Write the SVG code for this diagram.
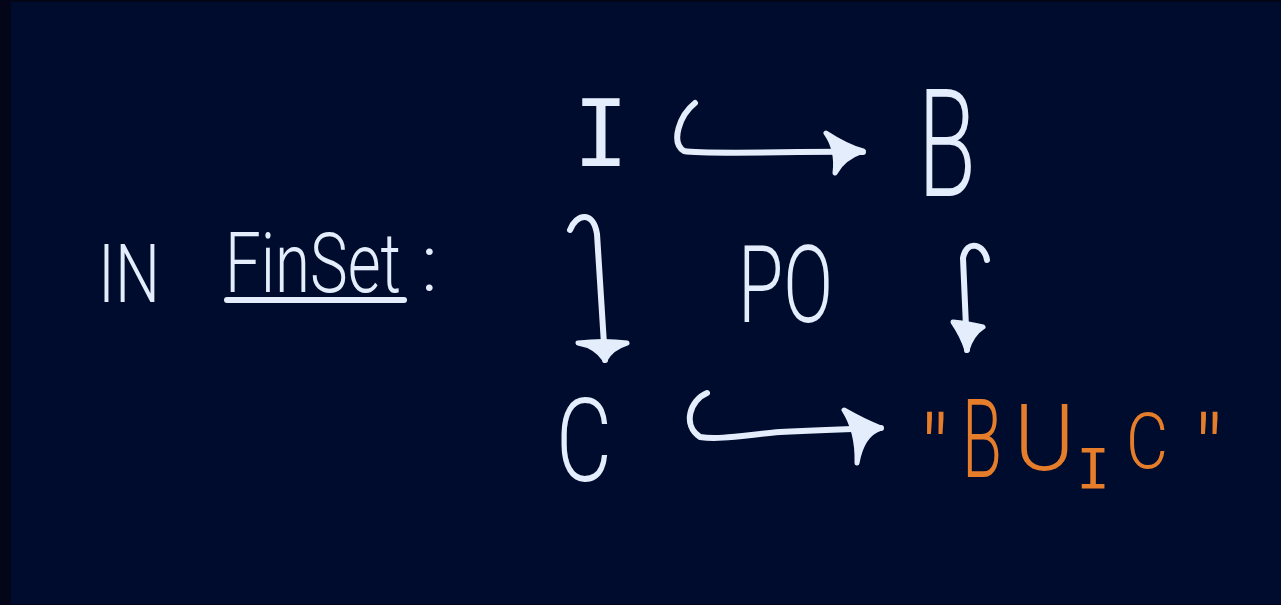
<svg xmlns="http://www.w3.org/2000/svg" width="1281" height="605" viewBox="0 0 1281 605">
<style>
.t{font-family:Roboto,"Liberation Sans",sans-serif;font-weight:300;fill:#e4edfb}
.o{font-family:Roboto,"Liberation Sans",sans-serif;font-weight:300;fill:#e67d2b}
.m{font-family:"DejaVu Sans Mono","Liberation Mono",monospace;font-weight:normal}
.ln{fill:none;stroke:#e4edfb;stroke-width:6;stroke-linecap:round;stroke-linejoin:round}
.hd{fill:#e4edfb;stroke:#e4edfb;stroke-width:5;stroke-linejoin:round}
</style>
<rect x="0" y="0" width="1281" height="605" fill="#05051a"/>
<rect x="11" y="2" width="1270" height="602" fill="#000c2e"/>
<g id="label">
<text class="t" x="98" y="302" font-size="82" textLength="62" lengthAdjust="spacingAndGlyphs">IN</text>
<text class="t" x="225" y="292" font-size="84" textLength="176" lengthAdjust="spacingAndGlyphs">FinSet</text>
<line x1="227" y1="300" x2="404" y2="300" class="ln"/>
<text class="t" x="421" y="291" font-size="80">:</text>
</g>
<g id="node-I"><text class="t m" x="601" y="166" font-size="92" text-anchor="middle">I</text></g>
<g id="node-B"><text class="t" x="918" y="196" font-size="150" textLength="58" lengthAdjust="spacingAndGlyphs">B</text></g>
<g id="node-PO"><text class="t" x="738" y="322" font-size="108" textLength="95" lengthAdjust="spacingAndGlyphs">PO</text></g>
<g id="node-C"><text class="t" x="556" y="481" font-size="116" textLength="56" lengthAdjust="spacingAndGlyphs">C</text></g>
<g id="node-pushout">
<text class="o" font-size="110"><tspan x="920" y="487" font-size="100">"</tspan><tspan x="962" y="477" textLength="40" lengthAdjust="spacingAndGlyphs">B</tspan><tspan x="1014" y="470" font-size="92">U</tspan><tspan class="m" x="1093" y="488" font-size="56" text-anchor="middle">I</tspan><tspan x="1126" y="468" font-size="78" textLength="42" lengthAdjust="spacingAndGlyphs">C</tspan><tspan x="1194" y="487" font-size="100">"</tspan></text>
</g>
<g id="connectors">
<path class="ln" d="M695,103 C680,115 670,142 684,151 C705,155 800,151 863,152"/>
<path class="hd" d="M826,133 Q846,146 863,151 Q843,158 835,173 Q838,150 826,133 Z"/>
<path class="ln" d="M570,230 C576,214 593,210 597,234 L605,360"/>
<path class="hd" d="M578,343 Q596,346 605,360 Q611,348 627,343 Q604,340 578,343 Z"/>
<path class="ln" d="M987,260 C985,245 967,238 963,258 L967,350"/>
<path class="hd" d="M953,322 Q962,335 967,350 Q972,334 983,327 Q966,323 953,322 Z"/>
<path class="ln" d="M707,393 C690,400 682,425 700,437 C720,440 745,435 780,432 C820,430 850,429 881,428"/>
<path class="hd" d="M844,410 Q865,422 881,428 Q862,434 857,463 Q858,432 844,410 Z"/>
</g>
</svg>
